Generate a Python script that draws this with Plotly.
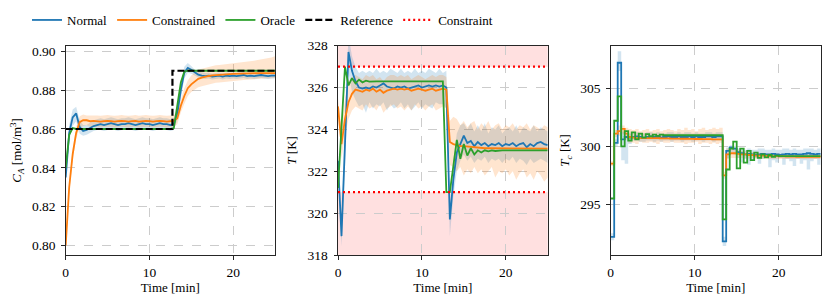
import plotly.graph_objects as go

# ---------------- data ----------------
n_steps = 60
t_end = 25.0
t = [k * t_end / n_steps for k in range(n_steps + 1)]

ref_t = [0, 12.75, 12.75, 25]
ref_ca = [0.86, 0.86, 0.89, 0.89]

constraint_t = [0, 25]
constraint_hi = 327.0
constraint_lo = 321.0
T_min, T_max = 318.0, 328.0

ca_normal = [0.835, 0.858, 0.866, 0.868, 0.861, 0.859, 0.8595, 0.8605, 0.8615, 0.862,
             0.8625, 0.862, 0.8625, 0.863, 0.8625, 0.862, 0.8625, 0.8625, 0.863, 0.8625,
             0.862, 0.8625, 0.863, 0.8625, 0.8625, 0.862, 0.8625, 0.863, 0.8625, 0.8625,
             0.862, 0.8625, 0.868, 0.880, 0.889, 0.8915, 0.8905, 0.889, 0.888, 0.8875,
             0.8872, 0.8875, 0.887, 0.8872, 0.8875, 0.887, 0.8875, 0.8872, 0.8875, 0.8872,
             0.8875, 0.8878, 0.8872, 0.8875, 0.8872, 0.8875, 0.8878, 0.8875, 0.8872, 0.8875, 0.8875]
ca_normal_hi = [0.838, 0.862, 0.870, 0.8715, 0.8645, 0.862, 0.862, 0.8635, 0.8645, 0.865,
                0.8655, 0.865, 0.8655, 0.866, 0.8655, 0.865, 0.8655, 0.8655, 0.866, 0.8655,
                0.865, 0.8655, 0.866, 0.8655, 0.8655, 0.865, 0.8655, 0.866, 0.8655, 0.8655,
                0.865, 0.8655, 0.871, 0.8835, 0.892, 0.894, 0.8925, 0.8905, 0.8895, 0.889,
                0.8888, 0.889, 0.8885, 0.8888, 0.889, 0.8885, 0.889, 0.8888, 0.889, 0.8888,
                0.889, 0.8893, 0.8888, 0.889, 0.8888, 0.889, 0.8893, 0.889, 0.8888, 0.889, 0.889]
ca_normal_lo = [0.832, 0.854, 0.8615, 0.864, 0.8575, 0.8565, 0.857, 0.858, 0.859, 0.8595,
                0.8595, 0.859, 0.8595, 0.860, 0.8595, 0.859, 0.8595, 0.8595, 0.860, 0.8595,
                0.859, 0.8595, 0.860, 0.8595, 0.8595, 0.859, 0.8595, 0.860, 0.8595, 0.8595,
                0.859, 0.8595, 0.865, 0.8765, 0.886, 0.889, 0.8885, 0.8875, 0.8865, 0.886,
                0.8858, 0.886, 0.8855, 0.8858, 0.886, 0.8855, 0.886, 0.8858, 0.886, 0.8858,
                0.886, 0.8863, 0.8858, 0.886, 0.8858, 0.886, 0.8863, 0.886, 0.8858, 0.886, 0.886]

ca_constrained = [0.800, 0.830, 0.847, 0.858, 0.8635, 0.8645, 0.8645, 0.864, 0.8642, 0.864,
                  0.8638, 0.864, 0.8642, 0.864, 0.8638, 0.864, 0.8642, 0.864, 0.8638, 0.864,
                  0.8642, 0.8638, 0.864, 0.8642, 0.864, 0.8638, 0.864, 0.8642, 0.864, 0.8638,
                  0.864, 0.8642, 0.8655, 0.872, 0.877, 0.881, 0.883, 0.8845, 0.8858, 0.8865,
                  0.887, 0.8873, 0.8876, 0.8878, 0.888, 0.8881, 0.8882, 0.8883, 0.8884, 0.8885,
                  0.8885, 0.8886, 0.8886, 0.8887, 0.8887, 0.8887, 0.8888, 0.8888, 0.8888, 0.8888, 0.8888]
ca_constrained_hi = [0.801, 0.833, 0.850, 0.861, 0.8665, 0.8675, 0.867, 0.867, 0.8672, 0.867,
                     0.8668, 0.867, 0.8672, 0.867, 0.8668, 0.867, 0.8672, 0.867, 0.8668, 0.867,
                     0.8672, 0.8668, 0.867, 0.8672, 0.867, 0.8668, 0.867, 0.8672, 0.867, 0.8668,
                     0.867, 0.8672, 0.8685, 0.8755, 0.881, 0.885, 0.8875, 0.889, 0.8905, 0.891,
                     0.8915, 0.892, 0.8925, 0.8928, 0.893, 0.8932, 0.8935, 0.8935, 0.8938, 0.894,
                     0.8942, 0.8945, 0.8948, 0.895, 0.8952, 0.8955, 0.8958, 0.896, 0.8963, 0.8968, 0.8975]
ca_constrained_lo = [0.799, 0.827, 0.844, 0.855, 0.8605, 0.8615, 0.862, 0.861, 0.8612, 0.861,
                     0.8608, 0.861, 0.8612, 0.861, 0.8608, 0.861, 0.8612, 0.861, 0.8608, 0.861,
                     0.8612, 0.8608, 0.861, 0.8612, 0.861, 0.8608, 0.861, 0.8612, 0.861, 0.8608,
                     0.861, 0.8612, 0.8625, 0.8685, 0.873, 0.877, 0.879, 0.8805, 0.8815, 0.882,
                     0.8825, 0.883, 0.8835, 0.8838, 0.884, 0.8842, 0.8845, 0.8845, 0.8848, 0.885,
                     0.885, 0.8852, 0.8853, 0.8855, 0.8855, 0.8857, 0.8858, 0.886, 0.886, 0.8862, 0.8863]

ca_oracle = [0.840, 0.857, 0.8605, 0.860, 0.860, 0.860, 0.860, 0.860, 0.860, 0.860,
             0.860, 0.860, 0.860, 0.860, 0.860, 0.860, 0.860, 0.860, 0.860, 0.860,
             0.860, 0.860, 0.860, 0.860, 0.860, 0.860, 0.860, 0.860, 0.860, 0.860,
             0.860, 0.8605, 0.872, 0.884, 0.8895, 0.890, 0.890, 0.890, 0.890, 0.890,
             0.890, 0.890, 0.890, 0.890, 0.890, 0.890, 0.890, 0.890, 0.890, 0.890,
             0.890, 0.890, 0.890, 0.890, 0.890, 0.890, 0.890, 0.890, 0.890, 0.890, 0.890]

T_normal = [322.5, 318.9, 323.3, 327.7, 326.8, 326.3, 326.0, 325.95, 326.0, 325.95,
            326.05, 326.0, 326.1, 326.2, 326.05, 326.0, 325.95, 326.05, 326.0, 326.05,
            325.95, 326.0, 326.05, 326.1, 326.0, 326.05, 326.1, 326.05, 326.1, 326.05,
            326.1, 326.0, 319.7, 321.6, 322.9, 323.3, 323.7, 323.35, 323.45, 323.2,
            323.4, 323.25, 323.35, 323.2, 323.3, 323.25, 323.35, 323.2, 323.3, 323.25,
            323.35, 323.2, 323.3, 323.35, 323.15, 323.3, 323.2, 323.35, 323.4, 323.3, 323.25]
T_normal_hi = [323.0, 319.5, 324.5, 328.5, 327.5, 327.0, 326.7, 326.8, 326.7, 326.8,
               326.7, 326.9, 326.7, 326.8, 326.7, 326.9, 326.8, 326.7, 326.9, 326.7,
               326.8, 326.7, 326.9, 326.7, 326.8, 326.7, 326.9, 326.8, 326.7, 326.9,
               326.7, 326.8, 320.2, 322.5, 323.8, 324.2, 324.3, 324.0, 324.3, 323.9,
               324.2, 323.9, 324.3, 323.8, 324.1, 324.0, 324.2, 323.8, 324.0, 324.1,
               323.9, 324.2, 323.8, 324.1, 324.0, 323.9, 324.2, 323.9, 324.1, 324.0, 323.9]
T_normal_lo = [322.0, 318.4, 322.2, 326.7, 325.8, 325.4, 325.1, 325.2, 324.8, 325.3,
               325.0, 325.2, 325.1, 325.3, 324.9, 325.2, 325.0, 325.1, 325.3, 325.0,
               325.2, 324.9, 325.1, 325.3, 325.0, 325.2, 325.1, 325.0, 325.3, 325.2,
               325.2, 325.0, 318.9, 320.8, 322.0, 322.5, 322.8, 322.5, 322.7, 322.4,
               322.6, 322.5, 322.7, 322.4, 322.6, 322.5, 322.6, 322.4, 322.6, 322.5,
               322.7, 322.4, 322.6, 322.5, 322.3, 322.6, 322.4, 322.5, 322.6, 322.5, 322.4]

T_constrained = [325.1, 323.3, 324.5, 325.3, 325.7, 325.9, 325.85, 325.8, 325.9, 325.85,
                 325.95, 325.8, 325.9, 325.75, 325.85, 325.9, 325.95, 325.9, 325.95, 325.9,
                 325.95, 325.85, 325.9, 325.95, 325.9, 325.85, 325.9, 325.95, 325.85, 325.9,
                 325.95, 325.9, 323.4, 323.3, 323.25, 323.2, 323.2, 323.18, 323.15, 323.15,
                 323.12, 323.12, 323.1, 323.1, 323.1, 323.1, 323.1, 323.08, 323.08, 323.08,
                 323.08, 323.08, 323.08, 323.08, 323.08, 323.08, 323.08, 323.08, 323.08, 323.08, 323.08]
T_constrained_hi = [325.5, 324.0, 325.5, 326.3, 326.5, 326.6, 326.5, 326.4, 326.6, 326.5,
                    326.6, 326.4, 326.5, 326.3, 326.5, 326.6, 326.6, 326.5, 326.6, 326.5,
                    326.6, 326.4, 326.5, 326.6, 326.5, 326.4, 326.5, 326.6, 326.5, 326.6,
                    326.6, 326.5, 324.4, 324.6, 324.5, 324.2, 324.4, 324.1, 324.3, 324.4,
                    324.0, 324.3, 324.1, 324.4, 324.0, 324.2, 324.3, 324.0, 324.2, 324.1,
                    324.3, 324.0, 324.2, 324.1, 324.3, 324.0, 324.2, 324.1, 324.0, 324.2, 324.1]
T_constrained_lo = [324.7, 322.6, 323.7, 324.5, 324.9, 325.1, 325.0, 324.9, 325.2, 325.0,
                    325.1, 324.9, 325.2, 324.8, 325.0, 325.1, 325.2, 325.0, 325.1, 324.9,
                    325.1, 324.9, 325.2, 325.0, 325.1, 324.9, 325.1, 325.2, 324.9, 325.0,
                    325.1, 325.0, 322.3, 322.2, 322.0, 322.2, 321.8, 322.1, 321.9, 322.2,
                    321.9, 322.1, 321.8, 322.0, 322.2, 321.7, 322.0, 321.9, 322.1, 321.8,
                    322.0, 321.6, 321.9, 322.1, 321.7, 321.9, 321.6, 322.0, 321.8, 321.5, 321.7]

T_oracle = [321.2, 324.1, 327.0, 326.1, 326.45, 326.2, 326.38, 326.25, 326.33, 326.28,
            326.3, 326.3, 326.3, 326.3, 326.3, 326.3, 326.3, 326.3, 326.3, 326.3,
            326.3, 326.3, 326.3, 326.3, 326.3, 326.3, 326.3, 326.3, 326.3, 326.3,
            326.3, 321.0, 321.0, 322.25, 323.5, 322.6, 323.3, 322.75, 323.1, 322.8,
            323.0, 322.9, 323.0, 322.95, 323.0, 322.97, 323.0, 323.0, 323.0, 323.0,
            323.0, 323.0, 323.0, 323.0, 323.0, 323.0, 323.0, 323.0, 323.0, 323.0, 323.0]

Tc_normal = [292.2, 300.3, 307.2, 300.6, 300.8, 300.75, 300.8, 300.85, 300.8, 300.75,
             300.8, 300.85, 300.8, 300.8, 300.75, 300.8, 300.85, 300.8, 300.8, 300.85,
             300.8, 300.8, 300.85, 300.8, 300.85, 300.8, 300.8, 300.85, 300.85, 300.8,
             300.85, 300.85, 291.8, 299.6, 299.9, 299.8, 299.5, 299.4, 299.3, 299.35,
             299.3, 299.25, 299.3, 299.35, 299.3, 299.3, 299.35, 299.3, 299.25, 299.3,
             299.35, 299.3, 299.35, 299.3, 299.3, 299.35, 299.4, 299.35, 299.3, 299.35, 299.35]
Tc_normal_hi = [292.5, 300.6, 308.2, 301.2, 301.2, 301.1, 301.2, 301.2, 301.1, 301.1,
                301.2, 301.2, 301.1, 301.2, 301.1, 301.1, 301.2, 301.2, 301.1, 301.2,
                301.1, 301.2, 301.2, 301.1, 301.2, 301.1, 301.1, 301.2, 301.2, 301.1,
                301.2, 301.2, 292.2, 299.9, 300.1, 300.0, 299.8, 299.8, 299.7, 299.8,
                299.7, 299.7, 299.8, 299.8, 299.7, 299.7, 299.8, 299.7, 299.7, 299.8,
                299.8, 299.7, 299.8, 299.7, 299.7, 299.8, 299.8, 299.8, 299.7, 299.8, 299.8]
Tc_normal_lo = [291.9, 300.0, 306.5, 298.8, 298.5, 300.2, 300.5, 300.5, 300.4, 300.4,
                300.5, 300.5, 300.4, 300.5, 300.4, 300.5, 300.5, 300.4, 300.5, 300.5,
                300.4, 300.5, 300.5, 300.4, 300.5, 300.5, 300.4, 300.5, 300.5, 300.4,
                300.5, 300.5, 291.4, 299.0, 299.5, 299.3, 299.0, 298.6, 298.9, 298.4,
                298.8, 299.0, 298.5, 298.9, 299.0, 298.2, 298.8, 298.6, 299.0, 298.4,
                298.9, 298.7, 298.3, 298.9, 298.5, 298.8, 298.0, 298.7, 298.9, 298.4, 298.6]

Tc_constrained = [298.5, 301.1, 301.3, 301.5, 301.1, 300.8, 300.75, 300.7, 300.7, 300.7,
                  300.7, 300.7, 300.7, 300.7, 300.68, 300.68, 300.68, 300.66, 300.66, 300.66,
                  300.65, 300.65, 300.64, 300.64, 300.63, 300.63, 300.62, 300.62, 300.62, 300.6,
                  300.6, 300.6, 297.5, 299.3, 299.4, 299.4, 299.35, 299.3, 299.3, 299.25,
                  299.25, 299.2, 299.2, 299.2, 299.18, 299.16, 299.15, 299.15, 299.14, 299.13,
                  299.12, 299.12, 299.11, 299.1, 299.1, 299.1, 299.1, 299.1, 299.1, 299.1, 299.1]
Tc_constrained_hi = [298.7, 301.4, 301.8, 301.8, 301.6, 301.5, 301.4, 301.5, 301.3, 301.4,
                     301.5, 301.3, 301.4, 301.5, 301.3, 301.4, 301.5, 301.4, 301.3, 301.5,
                     301.4, 301.6, 301.4, 301.5, 301.3, 301.5, 301.6, 301.4, 301.5, 301.6,
                     301.5, 301.6, 297.8, 299.8, 299.9, 299.8, 299.7, 299.6, 299.6, 299.5,
                     299.5, 299.5, 299.45, 299.45, 299.4, 299.4, 299.4, 299.4, 299.35, 299.35,
                     299.35, 299.35, 299.35, 299.3, 299.3, 299.3, 299.3, 299.3, 299.3, 299.3, 299.3]
Tc_constrained_lo = [298.3, 300.8, 300.9, 301.1, 300.6, 300.3, 300.3, 300.2, 300.4, 300.3,
                     300.3, 300.4, 300.3, 300.2, 300.4, 300.3, 300.3, 300.4, 300.3, 300.3,
                     300.3, 300.2, 300.3, 300.3, 300.4, 300.2, 300.3, 300.3, 300.2, 300.3,
                     300.2, 300.3, 297.2, 298.9, 299.0, 299.0, 299.0, 299.0, 299.0, 298.95,
                     299.0, 298.95, 298.95, 298.95, 298.95, 298.9, 298.9, 298.9, 298.9, 298.9,
                     298.9, 298.9, 298.9, 298.9, 298.9, 298.9, 298.9, 298.9, 298.9, 298.9, 298.9]

Tc_oracle = [295.5, 302.2, 304.3, 300.0, 301.3, 300.5, 301.2, 300.6, 301.1, 300.75,
             301.05, 300.85, 301.0, 300.9, 301.0, 300.95, 300.95, 300.95, 300.95, 300.95,
             300.95, 300.95, 300.95, 300.95, 300.95, 300.95, 300.95, 300.95, 300.95, 300.95,
             300.95, 300.95, 293.7, 298.0, 299.8, 300.4, 298.1, 299.8, 298.6, 299.6,
             298.8, 299.45, 299.0, 299.3, 299.05, 299.25, 299.1, 299.2, 299.15, 299.15,
             299.15, 299.15, 299.15, 299.15, 299.15, 299.15, 299.15, 299.15, 299.15, 299.15, 299.15]

# ---------------- styling ----------------
BLUE, ORANGE, GREEN = "#1f77b4", "#ff7f0e", "#2ca02c"
BLUE_F, ORANGE_F = "rgba(31,119,180,0.2)", "rgba(255,127,14,0.2)"
FONT = "Times New Roman"
FS_TICK = 13.5
FS_TITLE = 13
FS_LEG = 13
OFF = 8  # page margin of the html body
W, H = 830 - OFF, 308 - OFF


def px_x(p):
    return (p - OFF) / W


def px_y(p):
    return 1 - (p - OFF) / H


fig = go.Figure()


def band(xa, ya, lo, hi, fillc, shape):
    fig.add_trace(go.Scatter(x=t, y=lo, mode="lines", line=dict(width=0, shape=shape),
                             showlegend=False, hoverinfo="skip", xaxis=xa, yaxis=ya))
    fig.add_trace(go.Scatter(x=t, y=hi, mode="lines", line=dict(width=0, shape=shape),
                             fill="tonexty", fillcolor=fillc, showlegend=False,
                             hoverinfo="skip", xaxis=xa, yaxis=ya))


def line(xa, ya, y, color, name, show, shape, rank):
    fig.add_trace(go.Scatter(x=t, y=y, mode="lines", name=name, legendgroup=name,
                             line=dict(color=color, width=1.8, shape=shape),
                             showlegend=show, legendrank=rank, xaxis=xa, yaxis=ya))


panels = [
    ("x", "y", ca_normal, ca_normal_lo, ca_normal_hi, ca_constrained, ca_constrained_lo,
     ca_constrained_hi, ca_oracle, "linear"),
    ("x2", "y2", T_normal, T_normal_lo, T_normal_hi, T_constrained, T_constrained_lo,
     T_constrained_hi, T_oracle, "linear"),
    ("x3", "y3", Tc_normal, Tc_normal_lo, Tc_normal_hi, Tc_constrained, Tc_constrained_lo,
     Tc_constrained_hi, Tc_oracle, "hv"),
]

for i, (xa, ya, yn, yn_lo, yn_hi, yc, yc_lo, yc_hi, yo, shape) in enumerate(panels):
    band(xa, ya, yn_lo, yn_hi, BLUE_F, shape)
    band(xa, ya, yc_lo, yc_hi, ORANGE_F, shape)
    first = i == 0
    line(xa, ya, yn, BLUE, "Normal", first, shape, 1)
    line(xa, ya, yc, ORANGE, "Constrained", first, shape, 2)
    line(xa, ya, yo, GREEN, "Oracle", first, shape, 3)
    if i == 0:
        fig.add_trace(go.Scatter(x=ref_t, y=ref_ca, mode="lines", name="Reference",
                                 line=dict(color="black", width=2.2, dash="7px,3px"),
                                 legendrank=4, xaxis=xa, yaxis=ya))
    if i == 1:
        fig.add_trace(go.Scatter(x=constraint_t + [None] + constraint_t,
                                 y=[constraint_hi, constraint_hi, None, constraint_lo, constraint_lo],
                                 mode="lines", name="Constraint", connectgaps=False,
                                 line=dict(color="red", width=2.2, dash="2px,3px"),
                                 legendrank=5, xaxis=xa, yaxis=ya))

# violated regions in the temperature panel
for y0, y1 in [(constraint_hi, T_max), (T_min, constraint_lo)]:
    fig.add_shape(type="rect", xref="x2 domain", yref="y2", x0=0, x1=1, y0=y0, y1=y1,
                  fillcolor="rgba(255,0,0,0.12)", line=dict(width=0), layer="below")

ydom = [px_y(255), px_y(45.7)]
xdoms = [[px_x(65.7), px_x(275)], [px_x(338), px_x(547.7)], [px_x(610.7), px_x(820.7)]]
tick_font = dict(family=FONT, size=FS_TICK, color="black")
title_font = dict(family=FONT, size=FS_TITLE, color="black")
axis_common = dict(showline=True, mirror=True, linecolor="#262626", linewidth=1,
                   ticks="outside", ticklen=3.5, tickwidth=1, tickcolor="#262626",
                   showgrid=True, gridcolor="#cccccc", griddash="dash", gridwidth=0.8,
                   zeroline=False, automargin=False, tickfont=tick_font)

layout_axes = {}
for i, (xd) in enumerate(xdoms):
    sfx = "" if i == 0 else str(i + 1)
    layout_axes["xaxis" + sfx] = dict(domain=xd, range=[0, 25], tickvals=[0, 10, 20],
                                      anchor="y" + sfx, ticklabelstandoff=1,
                                      title=dict(text="Time [min]", standoff=3, font=title_font),
                                      **axis_common)

layout_axes["yaxis"] = dict(domain=ydom, range=[0.7951, 0.9029],
                            tickvals=[0.80, 0.82, 0.84, 0.86, 0.88, 0.90], tickformat=".2f",
                            anchor="x", ticklabelstandoff=3,
                            title=dict(text="<i>C</i><sub><i>A</i></sub> [mol/m<sup>3</sup>]",
                                       standoff=7, font=title_font),
                            **axis_common)
layout_axes["yaxis2"] = dict(domain=ydom, range=[T_min, T_max],
                             tickvals=[318, 320, 322, 324, 326, 328], anchor="x2",
                             ticklabelstandoff=3,
                             title=dict(text="<i>T</i> [K]", standoff=7, font=title_font),
                             **axis_common)
layout_axes["yaxis3"] = dict(domain=ydom, range=[290.63, 308.67],
                             tickvals=[295, 300, 305], anchor="x3", ticklabelstandoff=3,
                             title=dict(text="<i>T</i><sub><i>c</i></sub> [K]", standoff=7,
                                        font=title_font),
                             **axis_common)

fig.update_layout(
    width=W, height=H,
    margin=dict(l=0, r=0, t=0, b=0, autoexpand=False),
    paper_bgcolor="white", plot_bgcolor="white",
    font=dict(family=FONT, size=FS_TITLE, color="black"),
    showlegend=True,
    legend=dict(orientation="h", x=px_x(27), xanchor="left", y=px_y(20), yanchor="middle",
                font=dict(family=FONT, size=FS_LEG, color="black"), bgcolor="rgba(0,0,0,0)",
                itemwidth=30, tracegroupgap=0),
    **layout_axes,
)

fig.write_html("out.html")
